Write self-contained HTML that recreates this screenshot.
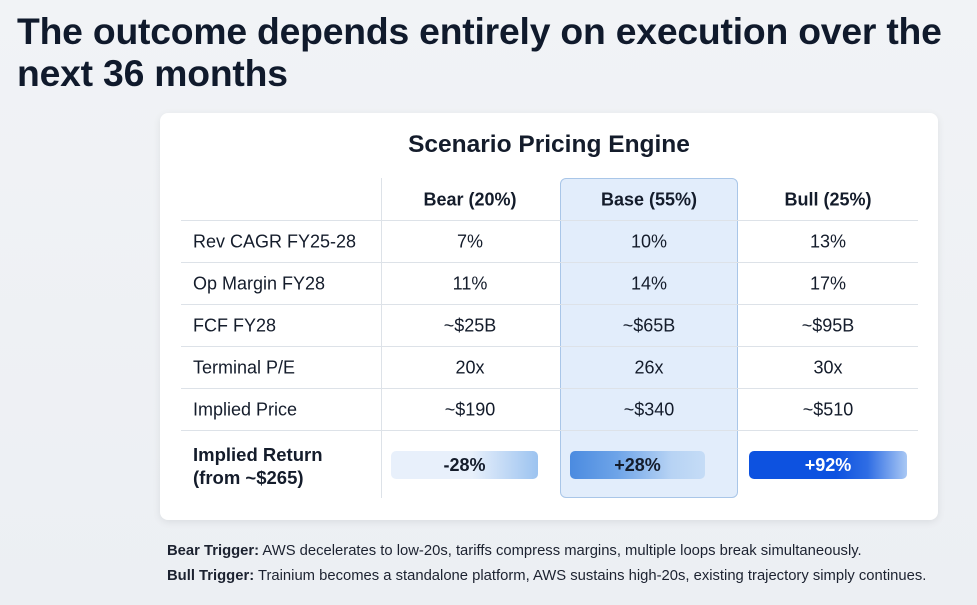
<!DOCTYPE html>
<html><head><meta charset="utf-8"><style>
*{margin:0;padding:0;box-sizing:border-box}
body{width:977px;height:605px;overflow:hidden;background:linear-gradient(180deg,#f1f3f6,#eceff3);font-family:"Liberation Sans",sans-serif;color:#141c2b;position:relative}
.abs{position:absolute}
h1{position:absolute;left:17px;top:10px;font-size:37.3px;line-height:42px;font-weight:700;color:#101a2c;letter-spacing:-0.2px}
.card{position:absolute;left:160px;top:113px;width:778px;height:407px;background:#fff;border-radius:8px;box-shadow:0 2px 8px rgba(0,0,0,.08)}
.hl{position:absolute;left:560px;top:178px;width:178px;height:320px;background:#e2edfb;border:1.5px solid #a9c6e8;border-radius:6px}
.hline{position:absolute;left:181px;width:737px;height:1px;background:#dde2e8}
.vline{position:absolute;left:381px;top:178px;width:1px;height:320px;background:#dde2e8}
.c{position:absolute;transform:translate(-50%,-50%);font-size:18px;white-space:nowrap}
.l{position:absolute;left:193px;transform:translateY(-50%);font-size:18px;white-space:nowrap}
.b{font-weight:700}
.pill{position:absolute;height:28px;border-radius:5px;font-weight:700;font-size:18px;display:flex;align-items:center;justify-content:center}
.foot{position:absolute;left:167px;font-family:"Liberation Sans Narrow","Liberation Sans",sans-serif;font-size:14.8px;white-space:nowrap;color:#1c2230}
</style></head><body>
<h1>The outcome depends entirely on execution over the<br>next 36 months</h1>
<div class="card"></div>
<div class="abs b" style="left:160px;width:778px;top:131px;text-align:center;font-size:24.5px">Scenario Pricing Engine</div>
<div class="hl"></div>
<div class="vline"></div>
<div class="hline" style="top:220px"></div>
<div class="hline" style="top:262px"></div>
<div class="hline" style="top:304px"></div>
<div class="hline" style="top:346px"></div>
<div class="hline" style="top:388px"></div>
<div class="hline" style="top:430px"></div>

<div class="c b" style="left:470px;top:200px">Bear (20%)</div>
<div class="c b" style="left:649px;top:200px">Base (55%)</div>
<div class="c b" style="left:828px;top:200px">Bull (25%)</div>

<div class="l" style="top:242px">Rev CAGR FY25-28</div>
<div class="c" style="left:470px;top:242px">7%</div>
<div class="c" style="left:649px;top:242px">10%</div>
<div class="c" style="left:828px;top:242px">13%</div>

<div class="l" style="top:284px">Op Margin FY28</div>
<div class="c" style="left:470px;top:284px">11%</div>
<div class="c" style="left:649px;top:284px">14%</div>
<div class="c" style="left:828px;top:284px">17%</div>

<div class="l" style="top:326px">FCF FY28</div>
<div class="c" style="left:470px;top:326px">~$25B</div>
<div class="c" style="left:649px;top:326px">~$65B</div>
<div class="c" style="left:828px;top:326px">~$95B</div>

<div class="l" style="top:368px">Terminal P/E</div>
<div class="c" style="left:470px;top:368px">20x</div>
<div class="c" style="left:649px;top:368px">26x</div>
<div class="c" style="left:828px;top:368px">30x</div>

<div class="l" style="top:410px">Implied Price</div>
<div class="c" style="left:470px;top:410px">~$190</div>
<div class="c" style="left:649px;top:410px">~$340</div>
<div class="c" style="left:828px;top:410px">~$510</div>

<div class="l b" style="top:466px;line-height:23px;font-size:18.5px">Implied Return<br>(from ~$265)</div>
<div class="pill" style="left:391px;top:451px;width:147px;background:linear-gradient(90deg,#e8f0fb 0%,#e8f0fb 55%,#9cc3f0 100%)">-28%</div>
<div class="pill" style="left:570px;top:451px;width:135px;background:linear-gradient(90deg,#4b8be0 0%,#6ea4e8 35%,#b7d3f4 75%,#c5dcf6 100%)">+28%</div>
<div class="pill" style="left:749px;top:451px;width:158px;color:#fff;background:linear-gradient(90deg,#0d52e0 0%,#0d52e0 55%,#2f6de4 75%,#a9c8f4 100%)">+92%</div>

<div class="foot" style="top:543px"><b>Bear Trigger:</b> AWS decelerates to low-20s, tariffs compress margins, multiple loops break simultaneously.</div>
<div class="foot" style="top:568px"><b>Bull Trigger:</b> Trainium becomes a standalone platform, AWS sustains high-20s, existing trajectory simply continues.</div>
</body></html>
